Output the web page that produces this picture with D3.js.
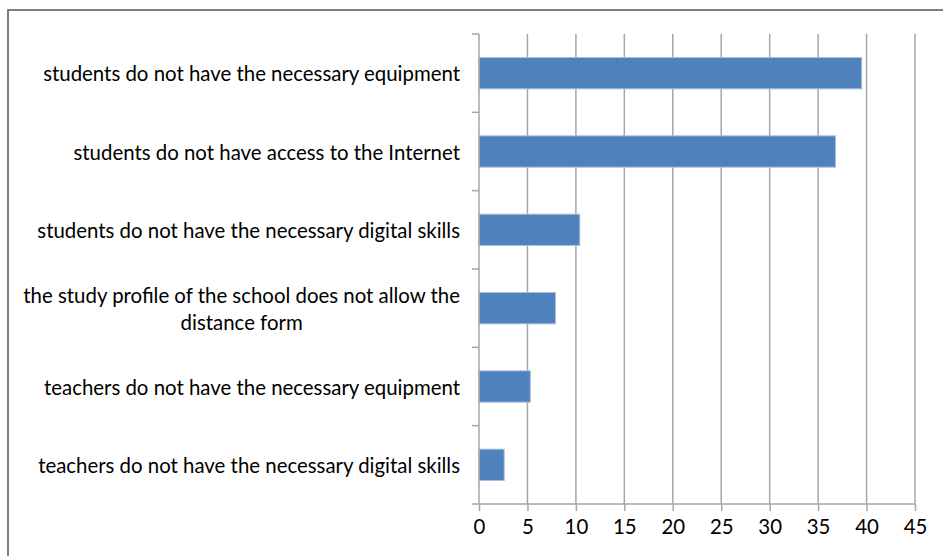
<!DOCTYPE html>
<html>
<head>
<meta charset="utf-8">
<script src="https://cdn.jsdelivr.net/npm/d3@7"></script>
<style>
  body { margin: 0; background: #fff; }
  svg { display: block; }
  text { font-family: Lato, "Open Sans", sans-serif; fill: #000; }
</style>
</head>
<body>
<script>
const categories = [
  'students do not have the necessary equipment',
  'students do not have access to the Internet',
  'students do not have the necessary digital skills',
  'the study profile of the school does not allow the distance form',
  'teachers do not have the necessary equipment',
  'teachers do not have the necessary digital skills'
];
const values = [39.5, 36.8, 10.4, 7.9, 5.3, 2.6];
const ticks = [0, 5, 10, 15, 20, 25, 30, 35, 40, 45];
// label line breaks as in the picture
const labelLines = [
  ['students do not have the necessary equipment'],
  ['students do not have access to the Internet'],
  ['students do not have the necessary digital skills'],
  ['the study profile of the school does not allow the', 'distance form'],
  ['teachers do not have the necessary equipment'],
  ['teachers do not have the necessary digital skills']
];

const width = 943, height = 556;
const margin = { top: 34, right: 28, bottom: 52, left: 479 };
const fontSize = '20.4px';

let svg = d3.select('body').append('svg')
  .attr('width', width)
  .attr('height', height);

// frame
svg.append('path')
  .attr('d', `M8,${height} L8,10 L${width},10`)
  .attr('fill', 'none')
  .attr('stroke', '#555')
  .attr('stroke-width', 1.5);

let x = d3.scaleLinear()
  .domain([0, 45])
  .range([margin.left, width - margin.right]);

let y = d3.scaleBand()
  .domain(categories)
  .range([margin.top, height - margin.bottom])
  .paddingInner(0.6)
  .paddingOuter(0.3);

// gridlines
svg.append('g')
  .selectAll('line')
  .data(ticks.slice(1))
  .enter()
  .append('line')
  .attr('x1', d => x(d))
  .attr('x2', d => x(d))
  .attr('y1', margin.top)
  .attr('y2', height - margin.bottom)
  .attr('stroke', '#a6a6a6')
  .attr('stroke-width', 1.5);

// bars
svg.append('g')
  .selectAll('rect')
  .data(categories)
  .enter()
  .append('rect')
  .attr('x', x(0))
  .attr('y', d => y(d))
  .attr('width', (d, i) => x(values[i]) - x(0))
  .attr('height', y.bandwidth())
  .attr('fill', '#4f81bd')
  .attr('stroke', '#a9c1e0')
  .attr('stroke-width', 1);

// x axis
let xAxis = svg.append('g')
  .attr('transform', `translate(0,${height - margin.bottom})`)
  .call(d3.axisBottom(x).tickValues(ticks).tickSize(7).tickPadding(9).tickFormat(d3.format('d')));
xAxis.select('.domain').remove();
xAxis.selectAll('line').attr('stroke', '#a6a6a6').attr('stroke-width', 1.5);
xAxis.selectAll('text').style('font-size', fontSize).attr('font-family', null);
xAxis.append('line')
  .attr('x1', margin.left - 7).attr('x2', x(45))
  .attr('stroke', '#a6a6a6').attr('stroke-width', 1.5);

// y axis: line and ticks at band edges
let yAxis = svg.append('g');
yAxis.append('line')
  .attr('x1', margin.left).attr('x2', margin.left)
  .attr('y1', margin.top).attr('y2', height - margin.bottom)
  .attr('stroke', '#a6a6a6').attr('stroke-width', 1.5);
let step = y.step();
yAxis.selectAll('.edge')
  .data(d3.range(categories.length))
  .enter()
  .append('line')
  .attr('class', 'edge')
  .attr('x1', margin.left - 7).attr('x2', margin.left)
  .attr('y1', i => margin.top + i * step)
  .attr('y2', i => margin.top + i * step)
  .attr('stroke', '#a6a6a6').attr('stroke-width', 1.5);

// category labels
let lineH = 27;
let labels = svg.append('g').selectAll('text')
  .data(categories)
  .enter()
  .append('text')
  .style('font-size', fontSize)
  .attr('text-anchor', 'middle')
  .attr('dominant-baseline', 'central');

labels.each(function (d, i) {
  let t = d3.select(this);
  let lines = labelLines[i];
  let cy = y(d) + y.bandwidth() / 2;
  lines.forEach((l, k) => {
    t.append('tspan')
      .attr('y', cy + (k - (lines.length - 1) / 2) * lineH)
      .text(l);
  });
  // right align the block, center lines within it
  let w = d3.max(t.selectAll('tspan').nodes(), n => n.getComputedTextLength());
  t.selectAll('tspan').attr('x', 460 - w / 2);
});
</script>
</body>
</html>
